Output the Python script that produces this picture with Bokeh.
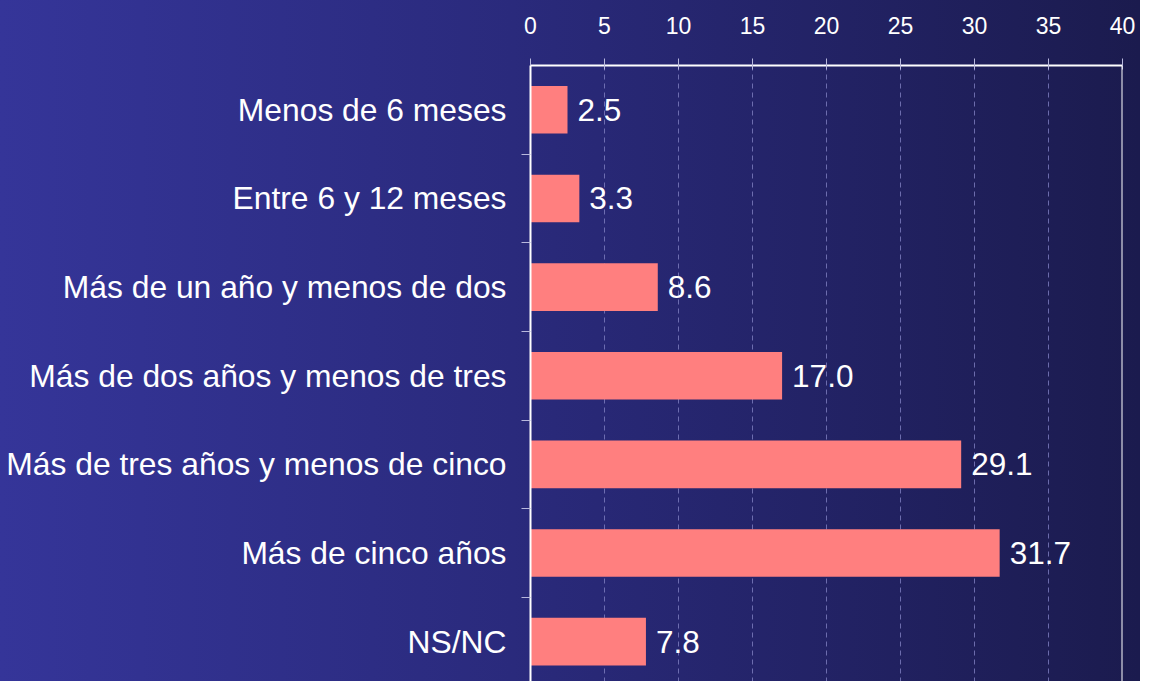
from bokeh.plotting import figure
from bokeh.models import LinearAxis, FixedTicker, Range1d, Span, ColumnDataSource
from bokeh.core.properties import value
from bokeh.embed import file_html
from bokeh.resources import INLINE

categories = [
    "Menos de 6 meses",
    "Entre 6 y 12 meses",
    "Más de un año y menos de dos",
    "Más de dos años y menos de tres",
    "Más de tres años y menos de cinco",
    "Más de cinco años",
    "NS/NC",
]
values = [2.5, 3.3, 8.6, 17.0, 29.1, 31.7, 7.8]
x_ticks = [0, 5, 10, 15, 20, 25, 30, 35, 40]

pos = list(range(len(categories)))
labels = [f"{v:.1f}" for v in values]
src = ColumnDataSource(dict(y=pos, v=values, lab=labels))

FONT = "Liberation Sans"

p = figure(
    width=1140, height=681,
    x_range=Range1d(0, 40),
    y_range=Range1d(6.45, -0.5),
    output_backend="svg", toolbar_location=None,
    x_axis_location=None, y_axis_location=None,
    min_border_left=530, min_border_top=65, min_border_right=18, min_border_bottom=0,
)
p.background_fill_color = None
p.border_fill_color = None
p.outline_line_color = None
p.styles = {"background": "linear-gradient(to right, #353599 0%, #2a2a7c 45%, #1b1b4e 100%)"}

# top axis
top = LinearAxis(ticker=FixedTicker(ticks=x_ticks))
top.axis_line_color = "white"
top.axis_line_width = 2
top.major_tick_line_color = "#b8b8dd"
top.major_tick_out = 7
top.major_tick_in = 4
top.minor_tick_line_color = None
top.major_label_text_color = "white"
top.major_label_text_font = FONT
top.major_label_text_font_size = "23px"
top.major_label_standoff = 25
p.add_layout(top, "above")

# left axis
left = LinearAxis(ticker=FixedTicker(ticks=pos, minor_ticks=[i + 0.5 for i in pos[:-1]]))
left.major_label_overrides = {i: c for i, c in enumerate(categories)}
left.axis_line_color = "white"
left.axis_line_width = 2
left.major_tick_line_color = None
left.major_tick_out = 0
left.major_tick_in = 0
left.minor_tick_line_color = "#b8b8dd"
left.minor_tick_out = 9
left.minor_tick_in = 0
left.major_label_text_color = "white"
left.major_label_text_font = FONT
left.major_label_text_font_size = "31.8px"
left.major_label_standoff = 15
p.add_layout(left, "left")

p.xgrid.ticker = FixedTicker(ticks=x_ticks[1:-1])
p.xgrid.grid_line_color = "#8080c0"
p.xgrid.grid_line_alpha = 0.8
p.xgrid.grid_line_dash = "5 4"
p.xgrid.grid_line_width = 1
p.ygrid.grid_line_color = None

p.add_layout(Span(location=40, dimension="height", line_color="white", line_width=2))

p.hbar(y="y", right="v", left=0, height=0.537, source=src,
       fill_color="#ff7f7f", line_color=None)

p.text(x="v", y="y", text="lab", source=src, x_offset=10,
       text_baseline="middle", text_align="left",
       text_color="white", text_font=value(FONT), text_font_size="31.5px")

open("out.html", "w").write(file_html(p, INLINE))
